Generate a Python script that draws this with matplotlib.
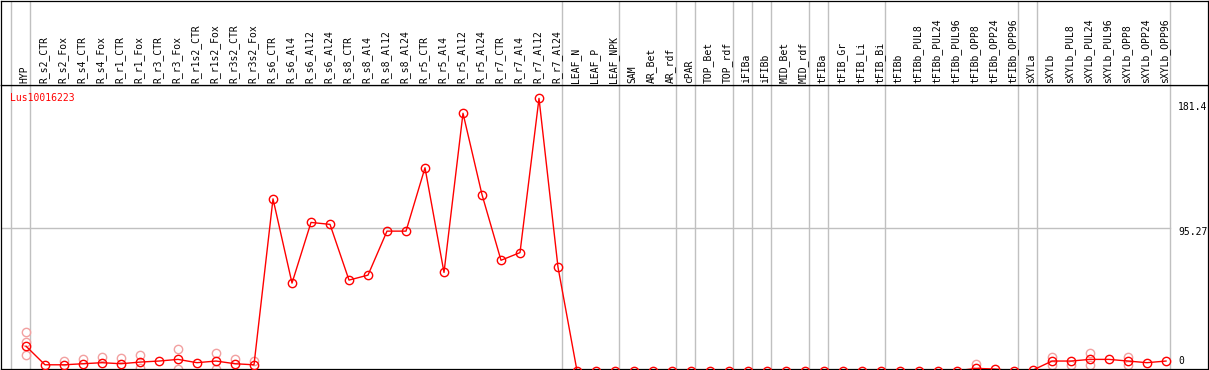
import matplotlib
matplotlib.use('Agg')
import matplotlib.pyplot as plt

gene = 'Lus10016223'

samples = ['HYP', 'R_s2_CTR', 'R_s2_Fox', 'R_s4_CTR', 'R_s4_Fox', 'R_r1_CTR', 'R_r1_Fox',
           'R_r3_CTR', 'R_r3_Fox', 'R_r1s2_CTR', 'R_r1s2_Fox', 'R_r3s2_CTR', 'R_r3s2_Fox',
           'R_s6_CTR', 'R_s6_Al4', 'R_s6_Al12', 'R_s6_Al24', 'R_s8_CTR', 'R_s8_Al4',
           'R_s8_Al12', 'R_s8_Al24', 'R_r5_CTR', 'R_r5_Al4', 'R_r5_Al12', 'R_r5_Al24',
           'R_r7_CTR', 'R_r7_Al4', 'R_r7_Al12', 'R_r7_Al24', 'LEAF_N', 'LEAF_P', 'LEAF_NPK',
           'SAM', 'AR_Bet', 'AR_rdf', 'cPAR', 'TOP_Bet', 'TOP_rdf', 'iFIBa', 'iFIBb',
           'MID_Bet', 'MID_rdf', 'tFIBa', 'tFIB_Gr', 'tFIB_Li', 'tFIB_Bi', 'tFIBb',
           'tFIBb_PUL8', 'tFIBb_PUL24', 'tFIBb_PUL96', 'tFIBb_OPP8', 'tFIBb_OPP24',
           'tFIBb_OPP96', 'sXYLa', 'sXYLb', 'sXYLb_PUL8', 'sXYLb_PUL24', 'sXYLb_PUL96',
           'sXYLb_OPP8', 'sXYLb_OPP24', 'sXYLb_OPP96']

# index where each tissue group starts (last one = end)
group_breaks = [0, 1, 29, 32, 35, 36, 38, 39, 40, 42, 43, 46, 53, 54, 61]

# mean expression per sample
expression = [16.4, 4.0, 4.0, 4.7, 5.4, 4.7, 5.8, 6.5, 7.6, 5.4, 6.5, 4.7, 4.0,
              114.5, 58.4, 98.8, 97.5, 60.4, 63.7, 93.0, 93.0,
              135.2, 65.5, 171.5, 117.3, 73.6, 78.7, 181.4, 69.0,
              0, 0, 0, 0, 0, 0, 0, 0, 0, 0, 0, 0, 0, 0, 0, 0, 0,
              0, 0, 0, 0, 1.6, 1.2, 0, 0.5,
              6.5, 6.5, 7.6, 7.6, 6.5, 5.4, 6.5]

# individual replicates that are visible (sample index -> values)
replicates = {0: [25.7, 19.1, 10.2], 2: [6.2], 3: [7.6], 4: [8.9], 5: [8.2],
              6: [10.7, 1.9], 8: [14.4, 1.4], 10: [12.0, 1.4], 11: [7.6], 12: [6.2],
              50: [4.2], 54: [9.1, 4.0], 55: [4.0], 56: [11.8, 4.0], 58: [9.1, 4.0]}

y_max = 181.4
y_mid = 95.27

W, H = 1209, 370
fig = plt.figure(figsize=(W / 100, H / 100), dpi=100)
mono = 'DejaVu Sans Mono'

xlim = (-25 / 19, 1182 / 19)
ax = fig.add_axes([1 / W, 1 / H, 1207 / W, 284 / H])
hax = fig.add_axes([1 / W, 285 / H, 1207 / W, 84.5 / H])

for a in (ax, hax):
    a.set_xlim(xlim)
    a.set_xticks([])
    a.set_yticks([])
    for s in a.spines.values():
        s.set_color('black')
        s.set_linewidth(0.9)
    for b in group_breaks:
        a.axvline(b - 15 / 19, color='#c0c0c0', lw=1, zorder=0)

# zero sits just below the frame, so flat markers get cut in half
ax.set_ylim(1.2, 190.3)
ax.plot([xlim[0], group_breaks[-1] - 15 / 19], [y_mid, y_mid], color='#c0c0c0', lw=1, zorder=0)

# replicates
for i, vals in replicates.items():
    ax.plot([i] * len(vals), vals, 'o', ms=6, mfc='none', mec='#f2a0a0', mew=1, zorder=2)

x = list(range(len(samples)))
ax.plot(x, expression, '-o', color='red', lw=1, ms=6, mfc='none', mec='red', mew=1, zorder=3)

ax.annotate(gene, xy=(0, 1), xycoords='axes fraction', xytext=(6.5, -5.5),
            textcoords='offset points', ha='left', va='top', color='red',
            fontsize=7, family=mono)

xr = group_breaks[-1] - 15 / 19
for val, lab, dy in [(y_max, '181.4', -6.5), (y_mid, '95.27', -3.0), (0, '0', 7.0)]:
    ax.annotate(lab, xy=(xr, val), xytext=(5.8, dy), textcoords='offset points',
                ha='left', va='center', fontsize=7, family=mono, color='black',
                annotation_clip=False)

hax.set_ylim(0, 1)
for i, name in enumerate(samples):
    hax.text(i - 0.08, 2 / 85, name, rotation=90, ha='center', va='bottom',
             fontsize=7, family=mono, color='black')

fig.savefig('out.png', dpi=100)
